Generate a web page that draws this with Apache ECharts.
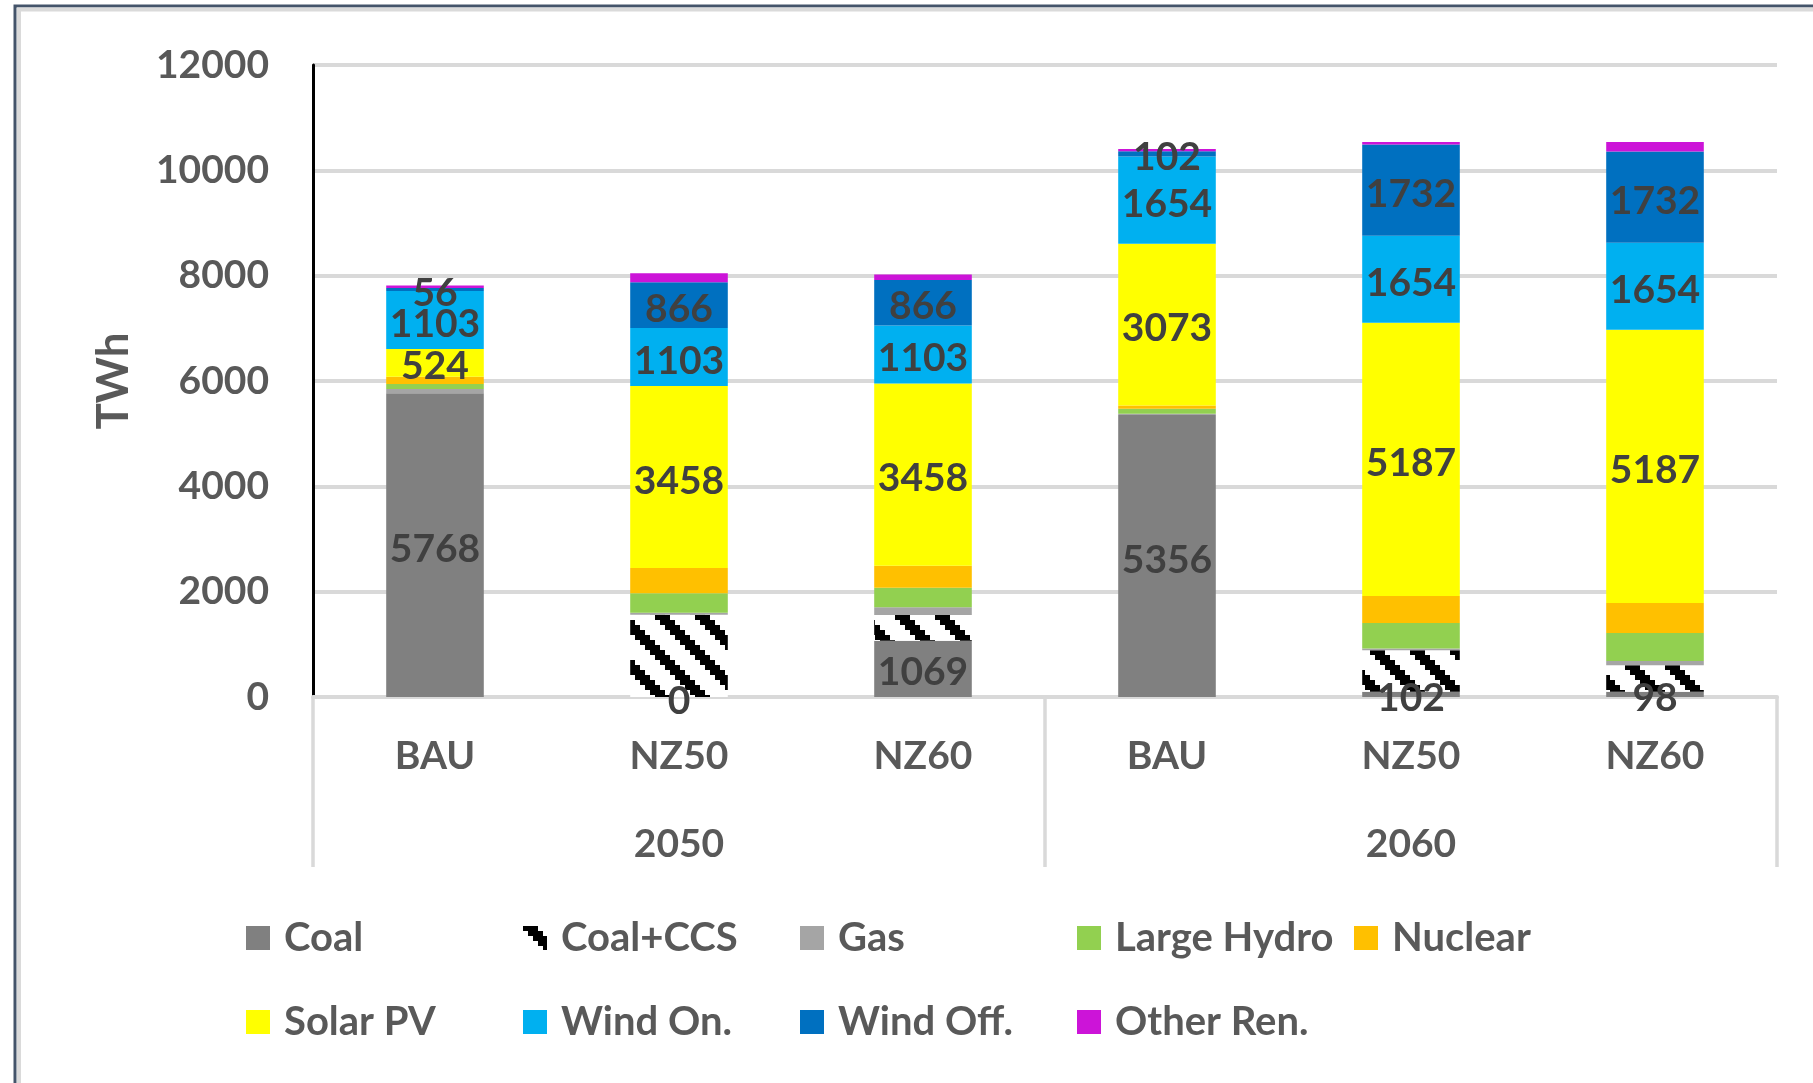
<!DOCTYPE html>
<html>
<head>
<meta charset="utf-8">
<title>Electricity generation by source</title>
<script src="https://cdn.jsdelivr.net/npm/echarts@6/dist/echarts.min.js"></script>
<style>
  html, body { margin: 0; padding: 0; background: #ffffff; }
  #chart { width: 1813px; height: 1083px; }
</style>
</head>
<body>
<div id="chart"></div>
<script>
// Scenario categories (first axis level) and target years (second level)
const scenarios = ['BAU', 'NZ50', 'NZ60', 'BAU', 'NZ50', 'NZ60'];
const years = ['2050', '2060'];
const yTicks = [0, 2000, 4000, 6000, 8000, 10000, 12000];

// Generation by source, TWh, one value per scenario column
const coal     = [5768, 0, 1069, 5356, 102, 98];
const coalCCS  = [0, 1560, 488, 0, 785, 503];
const gas      = [80, 40, 146, 20, 32, 82];
const hydro    = [95, 372, 372, 95, 487, 532];
const nuclear  = [140, 475, 418, 63, 513, 570];
const solarPV  = [524, 3458, 3458, 3073, 5187, 5187];
const windOn   = [1103, 1103, 1103, 1654, 1654, 1654];
const windOff  = [56, 866, 866, 102, 1732, 1732];
const otherRen = [45, 170, 100, 40, 45, 180];

// Wide downward diagonal hatch for Coal+CCS (8x8 cell pattern, scaled up)
function hatchCanvas() {
  const cell = 5, n = 8;
  const c = document.createElement('canvas');
  c.width = c.height = cell * n;
  const g = c.getContext('2d');
  g.fillStyle = '#ffffff';
  g.fillRect(0, 0, c.width, c.height);
  g.fillStyle = '#000000';
  for (let y = 0; y < n; y++) {
    for (let x = 0; x < n; x++) {
      if (((x - y) % n + n) % n < 3) g.fillRect(x * cell, y * cell, cell, cell);
    }
  }
  return c;
}

const FONT = 'Lato, "Open Sans", sans-serif';
const labelStyle = {
  show: true,
  position: 'inside',
  offset: [0, 4],
  formatter: '{c}',
  color: '#404040',
  fontFamily: FONT,
  fontWeight: 'bold',
  fontSize: 39
};

function series(name, data, color, withLabel) {
  return {
    name: name,
    type: 'bar',
    stack: 'total',
    data: data,
    barWidth: '40%',
    itemStyle: { color: color },
    label: withLabel ? labelStyle : { show: false },
    emphasis: { disabled: true }
  };
}

const chart = echarts.init(document.getElementById('chart'), null, { renderer: 'canvas' });

chart.setOption({
  animation: false,
  backgroundColor: '#ffffff',
  graphic: [
    { type: 'rect', z: -10, shape: { x: 15, y: 6, width: 2000, height: 2000 },
      style: { fill: 'none', stroke: '#44546A', lineWidth: 3 } },
    { type: 'rect', z: -10, shape: { x: 19, y: 9.5, width: 2000, height: 2000 },
      style: { fill: 'none', stroke: '#DADADA', lineWidth: 4 } }
  ],
  grid: { left: 313, right: 36, top: 65, bottom: 386, containLabel: false },
  legend: {
    left: 246,
    top: 896,
    width: 1400,
    padding: 0,
    itemGap: 0,
    itemWidth: 24,
    itemHeight: 24,
    icon: 'rect',
    textStyle: {
      color: '#595959',
      fontFamily: FONT,
      fontWeight: 'bold',
      fontSize: 40,
      width: 239,
      lineHeight: 84,
      padding: [0, 0, 0, 9]
    },
    data: ['Coal', 'Coal+CCS', 'Gas', 'Large Hydro', 'Nuclear',
           'Solar PV', 'Wind On.', 'Wind Off.', 'Other Ren.']
  },
  xAxis: [
    {
      type: 'category',
      data: scenarios,
      position: 'bottom',
      axisLine: { show: true, lineStyle: { color: '#D9D9D9', width: 4 } },
      axisTick: { show: false },
      axisLabel: {
        margin: 40,
        color: '#595959',
        fontFamily: FONT,
        fontWeight: 'bold',
        fontSize: 39
      }
    },
    {
      type: 'category',
      data: years,
      position: 'bottom',
      axisLine: { show: false },
      axisTick: { show: true, length: 170, lineStyle: { color: '#D9D9D9', width: 3.5 } },
      axisLabel: {
        margin: 128,
        color: '#595959',
        fontFamily: FONT,
        fontWeight: 'bold',
        fontSize: 39
      }
    }
  ],
  yAxis: {
    type: 'value',
    min: yTicks[0],
    max: yTicks[yTicks.length - 1],
    interval: 2000,
    name: 'TWh',
    nameLocation: 'middle',
    nameRotate: 90,
    nameGap: 177,
    nameTextStyle: {
      color: '#595959',
      fontFamily: FONT,
      fontWeight: 'bold',
      fontSize: 44
    },
    axisLine: { show: true, lineStyle: { color: '#000000', width: 3 } },
    axisTick: { show: false },
    splitLine: { show: true, lineStyle: { color: '#D9D9D9', width: 4 } },
    axisLabel: {
      margin: 44,
      formatter: function (v) { return String(v); },
      color: '#595959',
      fontFamily: FONT,
      fontWeight: 'bold',
      fontSize: 39
    }
  },
  series: [
    series('Coal', coal, '#808080', true),
    series('Coal+CCS', coalCCS, { image: hatchCanvas(), repeat: 'repeat' }, false),
    series('Gas', gas, '#A5A5A5', false),
    series('Large Hydro', hydro, '#92D050', false),
    series('Nuclear', nuclear, '#FFC000', false),
    series('Solar PV', solarPV, '#FFFF00', true),
    series('Wind On.', windOn, '#00B0F0', true),
    series('Wind Off.', windOff, '#0070C0', true),
    series('Other Ren.', otherRen, '#CC14D8', false)
  ]
});
</script>
</body>
</html>
